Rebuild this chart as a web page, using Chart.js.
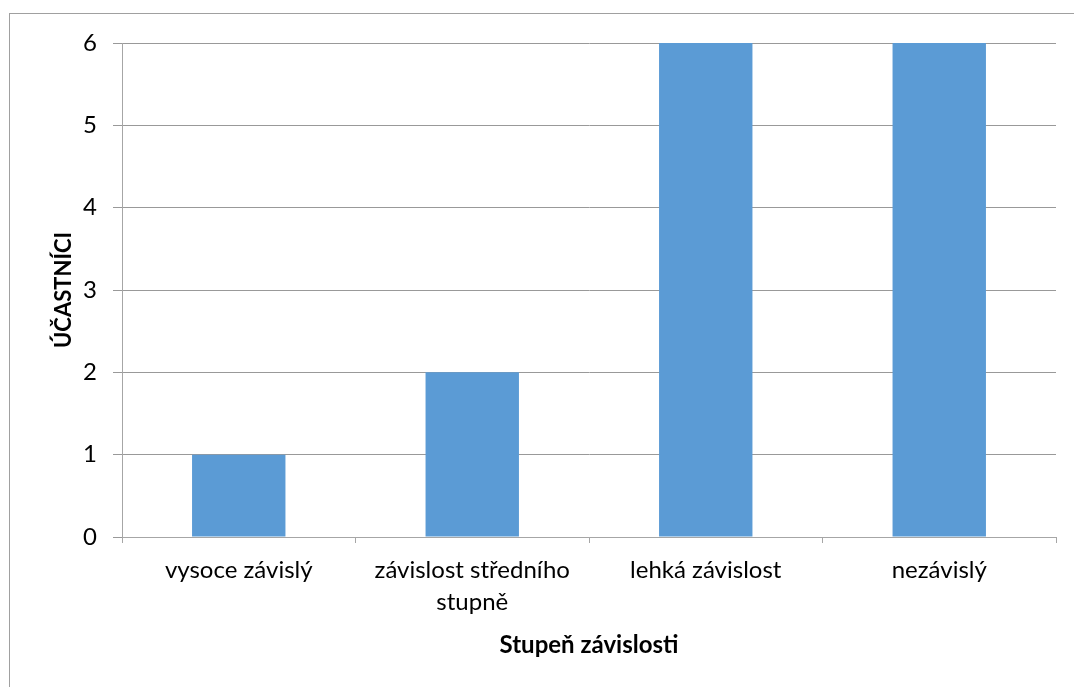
<!DOCTYPE html>
<html>
<head>
<meta charset="utf-8">
<script src="https://cdn.jsdelivr.net/npm/chart.js@4/dist/chart.umd.min.js"></script>
<style>
  html, body { margin: 0; padding: 0; background: #ffffff; }
  #wrap { position: relative; width: 1074px; height: 687px; overflow: hidden; }
  #frame { position: absolute; left: 9px; top: 13px; width: 1200px; height: 800px; border: 1px solid #a0a0a0; box-sizing: border-box; }
  canvas { position: absolute; left: 0; top: 0; }
</style>
</head>
<body>
<div id="wrap">
  <div id="frame"></div>
  <canvas id="c" width="1074" height="687"></canvas>
</div>
<script>
// Categories and counts of participants per dependency level
const categories = ["vysoce závislý", ["závislost středního", "stupně"], "lehká závislost", "nezávislý"];
const participants = [1, 2, 6, 6];
const yTicks = [0, 1, 2, 3, 4, 5, 6];

const FONT = "Lato, 'Open Sans', sans-serif";
const barColor = "#5b9bd5";
const gridColor = "#999999";
const axisColor = "#a6a6a6";

new Chart(document.getElementById("c"), {
  type: "bar",
  data: {
    labels: categories,
    datasets: [{
      data: participants,
      backgroundColor: barColor,
      borderWidth: 0,
      categoryPercentage: 1.0,
      barPercentage: 0.4
    }]
  },
  options: {
    responsive: false,
    animation: false,
    devicePixelRatio: 1,
    layout: { padding: { top: 43, right: 18, left: 0, bottom: 0 } },
    plugins: { legend: { display: false }, tooltip: { enabled: false } },
    scales: {
      x: {
        grid: { drawOnChartArea: false, drawTicks: true, tickLength: 6, color: axisColor, offset: true },
        border: { display: true, color: axisColor, width: 1 },
        ticks: { color: "#000", font: { family: FONT, size: 24, lineHeight: 1.3 }, padding: 12, maxRotation: 0, autoSkip: false },
        title: { display: true, text: "Stupeň závislosti", color: "#000", font: { family: FONT, size: 24, weight: "bold" }, padding: { top: 0, bottom: 27 } },
        afterFit: (s) => { s.height = 150; }
      },
      y: {
        min: 0, max: 6,
        afterBuildTicks: (s) => { s.ticks = yTicks.map(v => ({ value: v })); },
        grid: { color: gridColor, tickLength: 9, drawTicks: true },
        border: { display: true, color: axisColor, width: 1 },
        ticks: { color: "#000", font: { family: FONT, size: 24 }, padding: 16 },
        title: { display: true, text: "ÚČASTNÍCI", color: "#000", font: { family: FONT, size: 22, weight: "bold" }, padding: { top: 51, bottom: 0 } },
        afterFit: (s) => { s.width = 122; }
      }
    }
  }
});
</script>
</body>
</html>
